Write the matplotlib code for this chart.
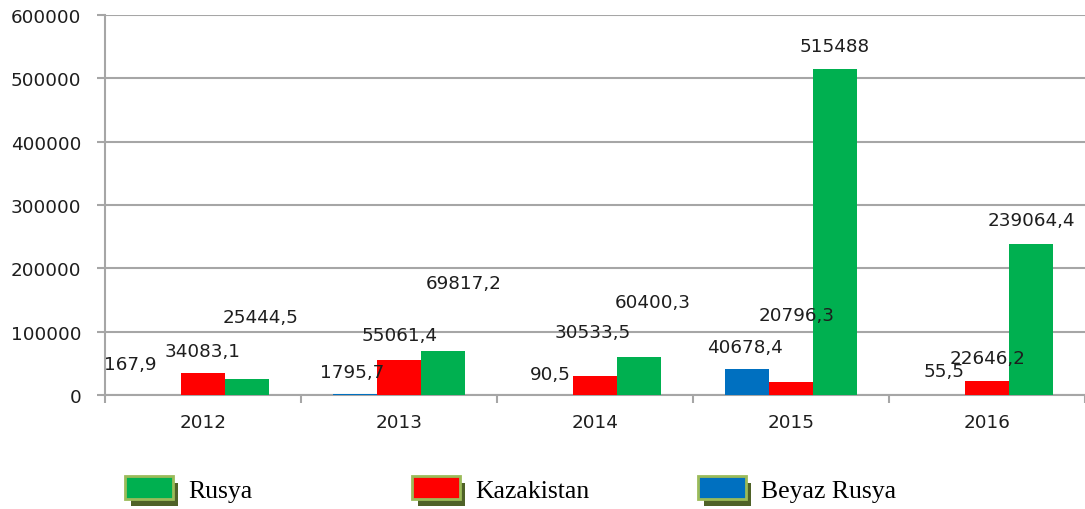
import matplotlib.pyplot as plt
import numpy as np
from matplotlib.patches import Patch
import matplotlib.patheffects as pe

years = ["2012", "2013", "2014", "2015", "2016"]
beyazRusya = [167.9, 1795.7, 90.5, 40678.4, 55.5]
kazakistan = [34083.1, 55061.4, 30533.5, 20796.3, 22646.2]
rusya = [25444.5, 69817.2, 60400.3, 515488, 239064.4]
yTicks = [0, 100000, 200000, 300000, 400000, 500000, 600000]

# label offsets (pixels) from each bar top, as they were moved in the original
blueOffsets = [(-29, 31), (-3, 22), (-1, 21), (-2, 22), (1, 24)]
redOffsets = [(0, 22), (1, 25), (-2, 44), (6, 67), (1, 23)]
greenOffsets = [(14, 62), (21, 68), (14, 55), (0, 23), (0, 24)]

def fmt(v):
    if float(v).is_integer():
        return str(int(v))
    return f"{v:.1f}".replace(".", ",")

fig = plt.figure(figsize=(10.85, 5.1), dpi=100)
ax = fig.add_axes([105 / 1085, 1 - 396 / 510, 1 - 105 / 1085, (396 - 16) / 510])

x = np.arange(len(years))
w = 0.224
series = [
    ("Beyaz Rusya", beyazRusya, "#0070c0", -w, blueOffsets),
    ("Kazakistan", kazakistan, "#ff0000", 0, redOffsets),
    ("Rusya", rusya, "#00b050", w, greenOffsets),
]
for name, vals, color, shift, offs in series:
    bars = ax.bar(x + shift, vals, width=w, color=color, zorder=3)
    for b, v, (dx, dy) in zip(bars, vals, offs):
        ax.annotate(fmt(v), (b.get_x() + b.get_width() / 2, b.get_height()),
                    xytext=(dx, dy), textcoords="offset pixels",
                    ha="center", va="center", fontsize=13.2, color="#1e1e1e", zorder=5)

ax.set_xlim(-0.5, len(years) - 0.5)
ax.set_ylim(0, 600000)
ax.set_yticks(yTicks)
ax.set_yticklabels([str(t) for t in yTicks])
ax.set_xticks(x)
ax.set_xticklabels(years)
ax.set_xticks(np.arange(-0.5, len(years), 1), minor=True)
ax.tick_params(axis="x", which="major", length=0, pad=13, labelsize=13.2, labelcolor="#1e1e1e")
ax.tick_params(axis="x", which="minor", length=6, width=1.5, color="#a6a6a6")
ax.tick_params(axis="y", length=6, width=1.5, color="#a6a6a6", pad=11, labelsize=13.2, labelcolor="#1e1e1e")
ax.yaxis.grid(True, color="#a6a6a6", linewidth=1.5, zorder=0)
ax.set_axisbelow(True)
for s in ["top", "right"]:
    ax.spines[s].set_visible(False)
for s in ["left", "bottom"]:
    ax.spines[s].set_color("#a6a6a6")
    ax.spines[s].set_linewidth(1.5)

shadow = [pe.SimplePatchShadow(offset=(4, -5), shadow_rgbFace="#4f6228", alpha=1), pe.Normal()]
legendItems = [("Rusya", "#00b050", 125), ("Kazakistan", "#ff0000", 412), ("Beyaz Rusya", "#0070c0", 698)]
for label, color, left in legendItems:
    h = Patch(facecolor=color, edgecolor="#9bbb59", linewidth=2, label=label, path_effects=shadow)
    fig.legend(handles=[h], loc="center left", bbox_to_anchor=(left / 1085, 1 - 490 / 510),
               frameon=False, borderpad=0, borderaxespad=0, handlelength=1.85, handleheight=1.0,
               handletextpad=0.6, prop={"family": "Liberation Serif", "size": 18.5})

fig.savefig("out.png", dpi=100)
